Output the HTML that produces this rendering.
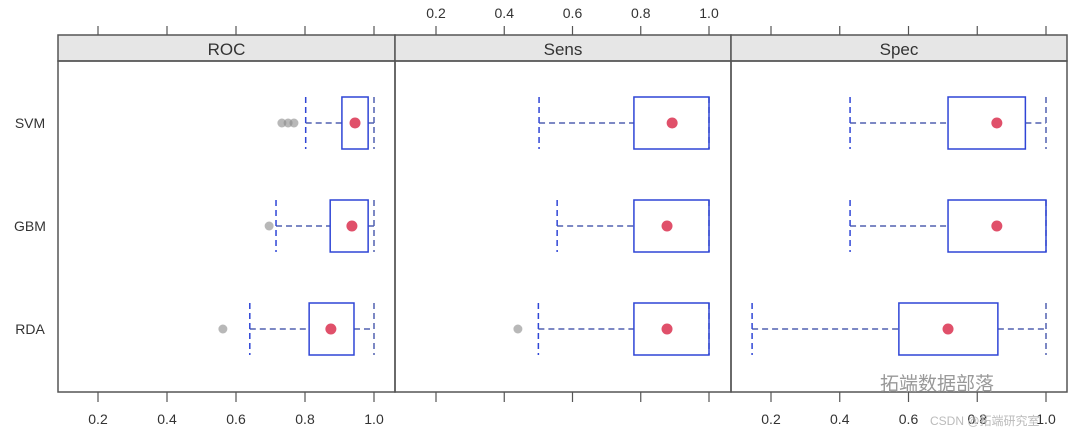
<!DOCTYPE html>
<html><head><meta charset="utf-8"><style>
body{margin:0;background:#fff;}
svg text{font-family:"Liberation Sans","Noto Sans CJK SC",sans-serif;}
</style></head><body>
<svg id="chart" width="1080" height="434" viewBox="0 0 1080 434" xmlns="http://www.w3.org/2000/svg"></svg>
<script>
const panels = ["ROC","Sens","Spec"];
const models = ["SVM","GBM","RDA"];
const tickLabels = ["0.2","0.4","0.6","0.8","1.0"];
const tickValues = [0.2,0.4,0.6,0.8,1.0];
// [whiskerLow, q1, median, q3, whiskerHigh] per panel per model
const rocStats = [[0.802,0.907,0.945,0.983,1.0],[0.716,0.873,0.936,0.983,1.0],[0.64,0.812,0.875,0.942,1.0]];
const sensStats = [[0.502,0.78,0.892,1.0,1.0],[0.555,0.78,0.877,1.0,1.0],[0.50,0.78,0.877,1.0,1.0]];
const specStats = [[0.43,0.715,0.857,0.94,1.0],[0.43,0.715,0.857,1.0,1.0],[0.145,0.572,0.715,0.86,1.0]];
const rocOutliers = [[0.733,0.751,0.768],[0.696],[0.562]];
const sensOutliers = [[],[],[0.44]];
const specOutliers = [[],[],[]];

const allStats=[rocStats,sensStats,specStats];
const allOut=[rocOutliers,sensOutliers,specOutliers];
const svg=document.getElementById('chart');
const NS="http://www.w3.org/2000/svg";
function mk(tag,attrs,parent){const e=document.createElementNS(NS,tag);for(const k in attrs)e.setAttribute(k,attrs[k]);(parent||svg).appendChild(e);return e;}
const pLeft=[58,395,731], pW=[337,336,336];
const topY=35, stripB=61, bottomY=392;
const x0=[98,436,771], xs=[345,341.25,343.75];
const rowY=[123,226,329];
function xScale(p,v){return x0[p]+(v-0.2)*xs[p];}
function yScale(i){return rowY[i];}
const blue="#2f45d6", blueD="#5060b0";
panels.forEach((name,p)=>{
  const g=mk('g',{});
  
  
  const st=mk('rect',{x:pLeft[p],y:topY,width:pW[p],height:stripB-topY,fill:'#e6e6e6',stroke:'#555','stroke-width':1.5},g);
  
  
  const t=mk('text',{x:pLeft[p]+pW[p]/2,y:55,'text-anchor':'middle','font-size':17,fill:'#333'},g);t.textContent=name;
  
  
  mk('rect',{x:pLeft[p],y:stripB,width:pW[p],height:bottomY-stripB,fill:'none',stroke:'#555','stroke-width':1.5},g);
  tickValues.forEach((v,k)=>{
    const x=xScale(p,v);
    mk('line',{x1:x,x2:x,y1:topY-9,y2:topY,stroke:'#555','stroke-width':1.2},g);
    mk('line',{x1:x,x2:x,y1:bottomY,y2:bottomY+10,stroke:'#555','stroke-width':1.2},g);
    const lt=mk('text',{x:x,y:p===1?18:424,'text-anchor':'middle','font-size':14,fill:'#333'},g);
    lt.textContent=tickLabels[k];
    
    
  });
  models.forEach((m,i)=>{
    const s=allStats[p][i], y=yScale(i), h=26;
    const bg=mk('g',{},g);
    
    
    const [wl,q1,md,q3,wh]=s.map(v=>xScale(p,v));
    mk('line',{x1:wl,x2:q1,y1:y,y2:y,stroke:blueD,'stroke-width':1.5,'stroke-dasharray':'6,4'},bg);
    mk('line',{x1:q3,x2:wh,y1:y,y2:y,stroke:blueD,'stroke-width':1.5,'stroke-dasharray':'6,4'},bg);
    mk('line',{x1:wl,x2:wl,y1:y-h,y2:y+h,stroke:blue,'stroke-width':1.5,'stroke-dasharray':'6,4'},bg);
    mk('line',{x1:wh,x2:wh,y1:y-h,y2:y+h,stroke:blueD,'stroke-width':1.5,'stroke-dasharray':'6,4'},bg);
    mk('rect',{x:q1,y:y-h,width:Math.max(q3-q1,0),height:2*h,fill:'none',stroke:blue,'stroke-width':1.5},bg);
    mk('circle',{cx:md,cy:y,r:5.5,fill:'#e0506a'},bg);
    allOut[p][i].forEach(v=>{mk('circle',{cx:xScale(p,v),cy:y,r:4.5,fill:'#888','fill-opacity':0.6},bg);});
  });
});
models.forEach((m,i)=>{
  const t=mk('text',{x:30,y:yScale(i)+5,'text-anchor':'middle','font-size':14,fill:'#333'});
  t.textContent=m;
  
  
});
const w1=mk('text',{x:880,y:390,'font-size':19,fill:'#999'});w1.textContent='拓端数据部落';


const w2=mk('text',{x:930,y:425,'font-size':12,fill:'#bbb'});w2.textContent='CSDN @拓端研究室';


</script>
</body></html>
